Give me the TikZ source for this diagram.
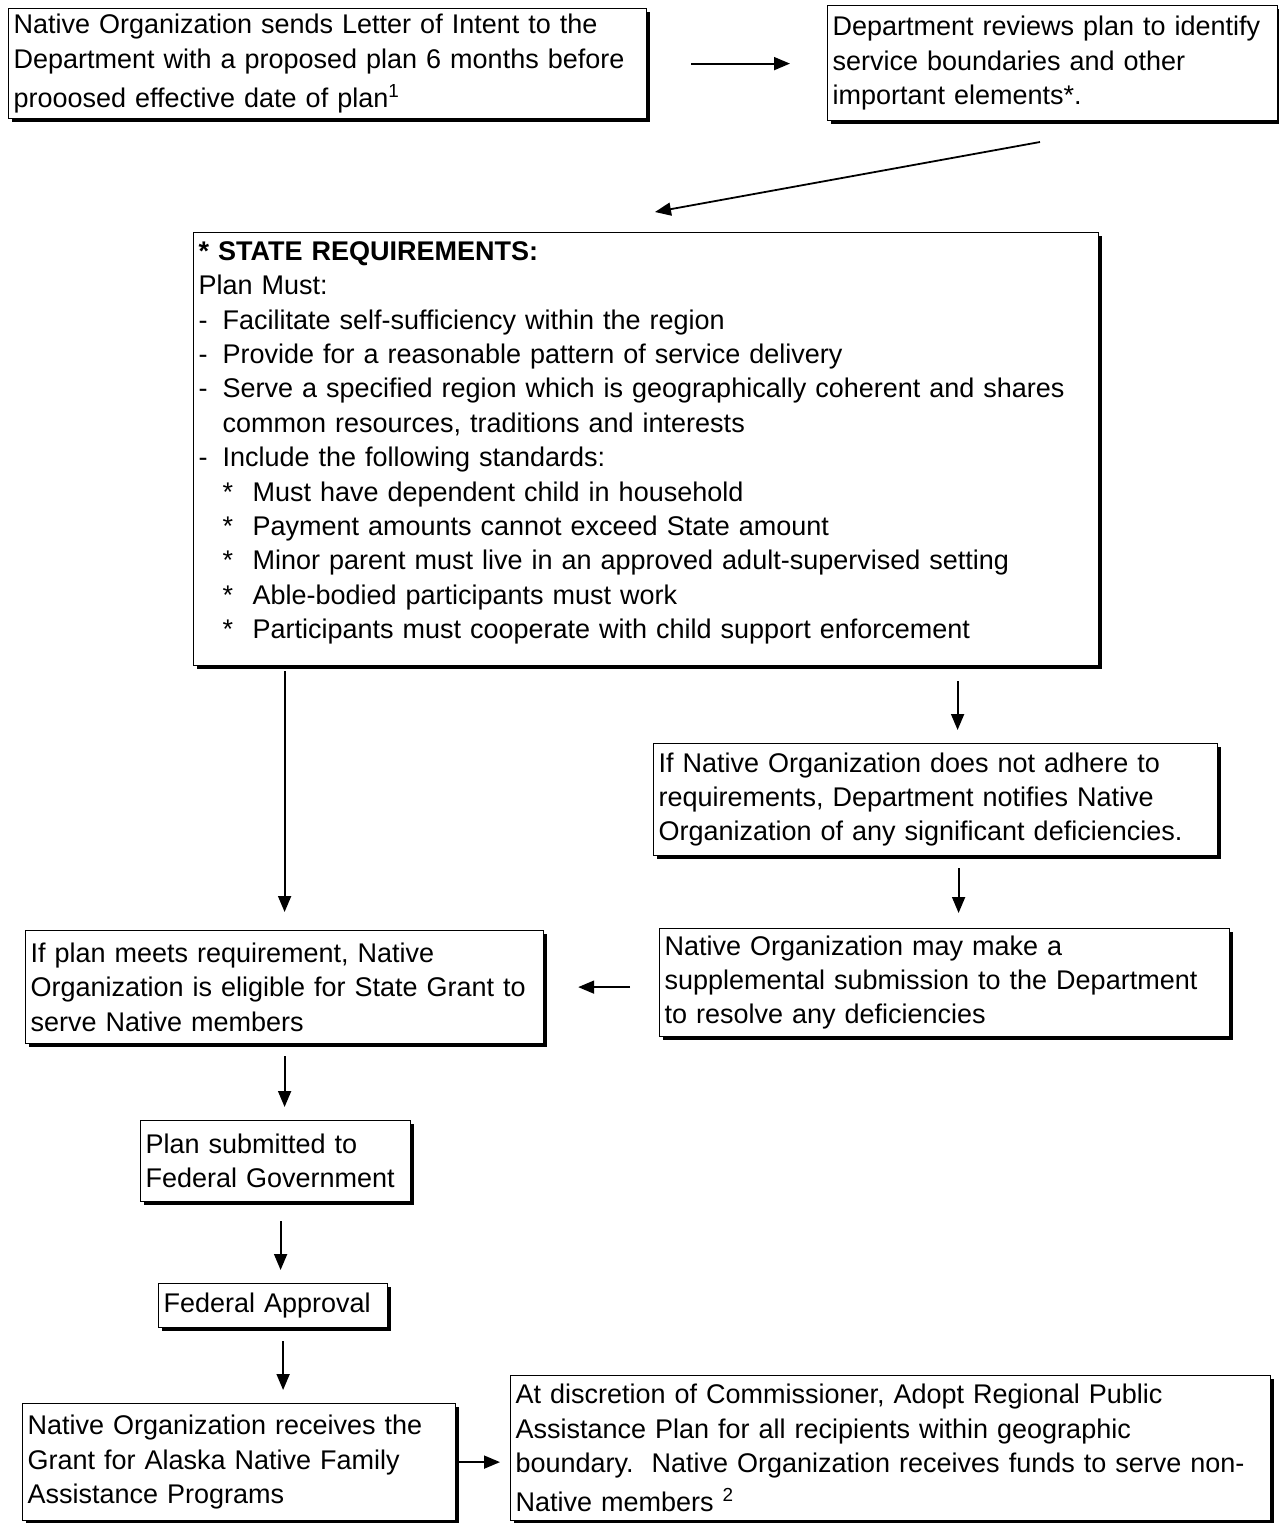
\documentclass[tikz,border=0pt]{standalone}
\usepackage{fontspec}
\setmainfont{Liberation Sans}
\usetikzlibrary{arrows.meta,shadows}
\newcommand\flowfont{\fontsize{13.5}{17.2}\selectfont}
\tikzset{
  stepbox/.style={draw, fill=white, line width=0.6pt, anchor=north west, align=left,
    inner xsep=2.5pt, inner ysep=2pt, font=\flowfont,
    drop shadow={shadow xshift=1.5pt, shadow yshift=-1.5pt, fill=black, opacity=1}},
  flow/.style={-{Triangle[length=8pt,width=6.5pt]}, line width=0.9pt},
}

\begin{document}
\begin{tikzpicture}[x=0.5pt, y=-0.5pt]
\useasboundingbox (0,0) rectangle (1279,1523);

\node[stepbox, text width=314pt, minimum height=55pt] (intent) at (8,8)
  {Native Organization sends Letter of Intent to the\\
   Department with a proposed plan 6 months before\\[2.5pt]
   prooosed effective date of plan\textsuperscript{1}};
\node[stepbox, text width=220pt, minimum height=57.5pt] (review) at (827,5)
  {Department reviews plan to identify\\
   service boundaries and other\\
   important elements*.};
\node[stepbox, text width=447.5pt, minimum height=216.5pt] (reqs) at (193,232)
  {\textbf{* STATE REQUIREMENTS:}\\
   Plan Must:\\
   \makebox[12pt][l]{-}Facilitate self-sufficiency within the region\\
   \makebox[12pt][l]{-}Provide for a reasonable pattern of service delivery\\
   \makebox[12pt][l]{-}Serve a specified region which is geographically coherent and shares\\
   \hspace*{12pt}common resources, traditions and interests\\
   \makebox[12pt][l]{-}Include the following standards:\\
   \hspace*{12pt}\makebox[15pt][l]{*}Must have dependent child in household\\
   \hspace*{12pt}\makebox[15pt][l]{*}Payment amounts cannot exceed State amount\\
   \hspace*{12pt}\makebox[15pt][l]{*}Minor parent must live in an approved adult-supervised setting\\
   \hspace*{12pt}\makebox[15pt][l]{*}Able-bodied participants must work\\
   \hspace*{12pt}\makebox[15pt][l]{*}Participants must cooperate with child support enforcement\rule[-9pt]{0pt}{9pt}};
\node[stepbox, text width=277pt, minimum height=56pt] (notify) at (653,743)
  {If Native Organization does not adhere to\\
   requirements, Department notifies Native\\
   Organization of any significant deficiencies.};
\node[stepbox, text width=280pt, minimum height=54pt] (supp) at (659,928)
  {Native Organization may make a\\
   supplemental submission to the Department\\
   to resolve any deficiencies};
\node[stepbox, text width=254pt, minimum height=56.5pt] (meets) at (25,930)
  {If plan meets requirement, Native\\
   Organization is eligible for State Grant to\\
   serve Native members};
\node[stepbox, text width=130pt, minimum height=40.5pt] (submit) at (140,1120)
  {Plan submitted to\\
   Federal Government};
\node[stepbox, text width=109.5pt, minimum height=22pt] (approval) at (158,1283)
  {Federal Approval};
\node[stepbox, text width=211.5pt, minimum height=58.5pt] (grant) at (22,1403)
  {Native Organization receives the\\
   Grant for Alaska Native Family\\
   Assistance Programs};
\node[stepbox, text width=375pt, minimum height=72.5pt] (discretion) at (510,1375)
  {At discretion of Commissioner, Adopt Regional Public\\
   Assistance Plan for all recipients within geographic\\
   boundary.\ \ Native Organization receives funds to serve non-\\[2.5pt]
   Native members \textsuperscript{2}};

\coordinate (revout) at (1040,142);
\coordinate (reqin) at (655,212);

\draw[flow, shorten <=22pt, shorten >=18.5pt] (intent.east) -- (intent.east -| review.west);
\draw[flow] (revout) -- (reqin);
\draw[flow, shorten <=2.5pt, shorten >=9pt] (reqs.south -| meets.north) -- (meets.north);
\draw[flow, shorten <=7.5pt, shorten >=6.5pt] ([xshift=11pt]notify.north |- reqs.south) -- ([xshift=11pt]notify.north);
\draw[flow, shorten <=6pt, shorten >=7.5pt] ([xshift=11.5pt]notify.south) -- ([xshift=11.5pt]notify.south |- supp.north);
\draw[flow, shorten <=14.5pt, shorten >=17pt] (supp.west |- meets.east) -- (meets.east);
\draw[flow, shorten <=6pt, shorten >=6.5pt] (meets.south) -- (meets.south |- submit.north);
\draw[flow, shorten <=9.5pt, shorten >=6.5pt] ([xshift=2.5pt]submit.south) -- ([xshift=2.5pt]submit.south |- approval.north);
\draw[flow, shorten <=6.5pt, shorten >=6.5pt] ([xshift=5pt]approval.south) -- ([xshift=5pt]approval.south |- grant.north);
\draw[flow, shorten <=1.5pt, shorten >=5pt] (grant.east) -- (grant.east -| discretion.west);
\end{tikzpicture}
\end{document}
